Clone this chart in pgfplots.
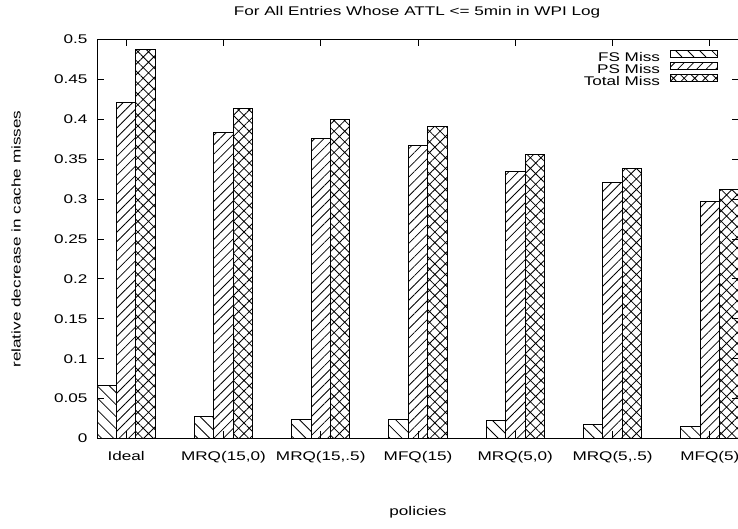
\documentclass[border=0pt]{standalone}
\usepackage{fontspec}
\setmainfont{Liberation Sans}[FakeStretch=1.36]
\usepackage{pgfplots}
\pgfplotsset{compat=1.18}
\usepackage{pgfplotstable}
\usetikzlibrary{patterns.meta}
\pgfplotstableread{
x FS PS Total
0 0.067 0.421 0.488
1 0.028 0.384 0.413
2 0.024 0.376 0.400
3 0.024 0.367 0.391
4 0.022 0.335 0.356
5 0.017 0.321 0.338
6 0.015 0.297 0.312
}\data
\newcommand\f{\fontsize{12.6}{15}\selectfont}
\pgfplotsset{mylegend/.style={legend image code/.code={\draw[##1] (0pt,1pt) rectangle (47.5pt,8pt);}}}
\begin{document}
\begin{tikzpicture}
\useasboundingbox (0pt,0pt) rectangle (738pt,529pt);
\begin{axis}[
  at={(97pt,90.5pt)}, anchor=south west, scale only axis,
  width=642pt, height=399pt,
  xmin=-0.3, xmax=6.3, ymin=0, ymax=0.5,
  axis line style={line width=0.9pt},
  tick style={line width=0.8pt, black},
  tick align=inside, major tick length=7pt,
  xtick={0,1,2,3,4,5,6},
  xticklabels={Ideal,{MRQ(15,0)},{MRQ(15,.5)},{MFQ(15)},{MRQ(5,0)},{MRQ(5,.5)},{MFQ(5)}},
  ytick={0,0.05,0.1,0.15,0.2,0.25,0.3,0.35,0.4,0.45,0.5},
  yticklabels={0,0.05,0.1,0.15,0.2,0.25,0.3,0.35,0.4,0.45,0.5},
  xticklabel style={font=\f, yshift=-9pt},
  yticklabel style={font=\f, xshift=-6pt},
  legend plot pos=right,
  legend cell align=right,
  legend style={draw=none, fill=none, at={(0.968,1)}, yshift=-11pt, anchor=north east,
    inner sep=0pt, outer sep=0pt, row sep=-3pt, column sep=10pt,
    nodes={inner sep=0pt, outer sep=0pt, text height=9pt, text depth=3.5pt, font=\f}},
]
\addplot[ybar, bar width=0.2, bar shift=0pt, draw=black, line width=1pt,
  pattern={Lines[angle=-45,distance=8.5pt,line width=0.8pt]}, mylegend]
  table[x expr=\thisrow{x}-0.2, y=FS] {\data};
\addlegendentry{FS Miss}
\addplot[ybar, bar width=0.2, bar shift=0pt, draw=black, line width=1pt,
  pattern={Lines[angle=45,distance=6.7pt,line width=0.8pt]}, mylegend]
  table[x=x, y=PS] {\data};
\addlegendentry{PS Miss}
\addplot[ybar, bar width=0.2, bar shift=0pt, draw=black, line width=1pt,
  pattern={Hatch[angle=45,distance=7.5pt,line width=0.8pt]}, mylegend]
  table[x expr=\thisrow{x}+0.2, y=Total] {\data};
\addlegendentry{Total Miss}
\end{axis}
\node[font=\f] at (417pt,516.5pt) {For All Entries Whose ATTL <= 5min in WPI Log};
\node[font=\f] at (418pt,17pt) {policies};
\node[font=\f, rotate=90] at (16pt,290pt) {relative decrease in cache misses};
\end{tikzpicture}
\end{document}
